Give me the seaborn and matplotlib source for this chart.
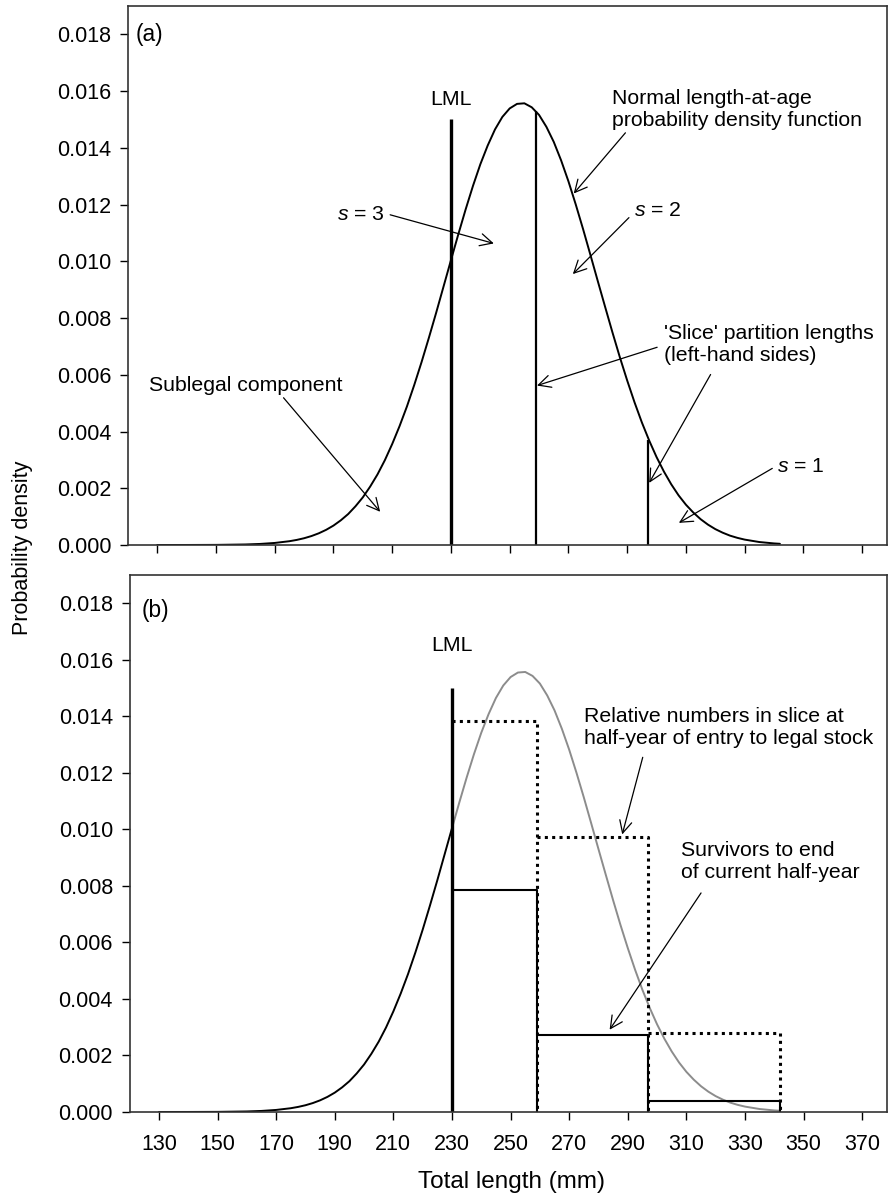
import matplotlib
matplotlib.use("Agg")
import matplotlib.pyplot as plt
import seaborn as sns
import pandas as pd

# ---------------- data ----------------
length_mm = [130, 140, 150, 160, 165, 170, 175, 177.5, 180, 182.5, 185, 187.5, 190,
             192.5, 195, 197.5, 200, 202.5, 205, 207.5, 210, 212.5, 215, 217.5, 220,
             222.5, 225, 227.5, 230, 232.5, 235, 237.5, 240, 242.5, 245, 247.5, 250,
             252.5, 255, 257.5, 260, 262.5, 265, 267.5, 270, 272.5, 275, 277.5, 280,
             282.5, 285, 287.5, 290, 292.5, 295, 297.5, 300, 302.5, 305, 307.5, 310,
             312.5, 315, 317.5, 320, 322.5, 325, 327.5, 330, 335, 340, 342]
density = [0.0000001, 0.0000008, 0.0000041, 0.0000184, 0.000037, 0.000072, 0.000133,
           0.000179, 0.000238, 0.000315, 0.000412, 0.000534, 0.000684,
           0.00087, 0.00109, 0.001365, 0.00168, 0.00206, 0.00249, 0.00299, 0.00356,
           0.00419, 0.00488, 0.00564, 0.00645,
           0.00731, 0.00820, 0.00912, 0.01004, 0.01095, 0.01183, 0.01266, 0.01342,
           0.01408, 0.01465, 0.01509, 0.01539,
           0.01555, 0.01557, 0.01543, 0.01516, 0.01474, 0.01421, 0.01356, 0.01282,
           0.01200, 0.01113, 0.01022, 0.00930,
           0.00839, 0.00749, 0.00662, 0.00580, 0.00503, 0.00432, 0.00368, 0.00310,
           0.00259, 0.00214, 0.00175, 0.00142,
           0.001145, 0.00091, 0.000718, 0.00056, 0.000434, 0.00033, 0.000252, 0.00019,
           0.000104, 0.000055, 0.000042]

lml = 230
lml_top = 0.0150
slice_edges = [230, 259, 297, 342]          # slice partition lengths
slice_line_tops = [0.0153, 0.0037]          # panel (a) partition lines at 259, 297
relative_numbers = [0.01384, 0.00974, 0.00279]   # dotted steps, panel (b)
survivors = [0.00786, 0.00273, 0.00040]          # solid steps, panel (b)

x_ticks = [130, 150, 170, 190, 210, 230, 250, 270, 290, 310, 330, 350, 370]
y_ticks = [0.000, 0.002, 0.004, 0.006, 0.008, 0.010, 0.012, 0.014, 0.016, 0.018]

# ---------------- style ----------------
sns.set_style("ticks")
plt.rcParams['font.family'] = ['Liberation Sans', 'DejaVu Sans']
plt.rcParams['mathtext.fontset'] = 'custom'
plt.rcParams['mathtext.rm'] = 'Liberation Sans'
plt.rcParams['mathtext.it'] = 'Liberation Sans:italic'
plt.rcParams['text.color'] = 'black'
plt.rcParams['axes.labelcolor'] = 'black'
plt.rcParams['xtick.color'] = 'black'
plt.rcParams['ytick.color'] = 'black'

fig = plt.figure(figsize=(8.88, 12.02), dpi=100)
ax_a = fig.add_axes([0.144, 0.5466, 0.855, 0.4484])
ax_b = fig.add_axes([0.146, 0.0749, 0.853, 0.4467])

curve = pd.DataFrame({"x": length_mm, "y": density})
left = curve[curve.x <= lml]
right = curve[curve.x >= lml]

TICK_FS = 15.5
ANN_FS = 15.3
LS = 1.2
arrow = dict(arrowstyle="->", color="black", lw=0.9, mutation_scale=22,
             shrinkA=0, shrinkB=0)


def style_axis(ax, show_xlabels):
    ax.set_xlim(120, 378.5)
    ax.set_ylim(0, 0.019)
    ax.set_xticks(x_ticks)
    ax.set_yticks(y_ticks)
    ax.set_yticklabels([f"{v:.3f}" for v in y_ticks])
    if not show_xlabels:
        ax.set_xticklabels([])
    ax.tick_params(axis="both", direction="out", length=6, width=1,
                   labelsize=TICK_FS, colors="black", pad=6)
    ax.tick_params(axis="x", pad=10)
    for sp in ax.spines.values():
        sp.set_visible(True)
        sp.set_color("#333333")
        sp.set_linewidth(1.2)
    ax.set_xlabel("")
    ax.set_ylabel("")


# ---------------- panel (a) ----------------
sns.lineplot(data=curve, x="x", y="y", ax=ax_a, color="black", lw=1.4,
             estimator=None, sort=False)
ax_a.vlines(lml, 0, lml_top, color="black", lw=2.4)
ax_a.vlines(slice_edges[1:3], 0, slice_line_tops, color="black", lw=1.6)
ax_a.text(lml, 0.0157, "LML", ha="center", va="center", fontsize=ANN_FS)
ax_a.text(122.8, 0.0180, "(a)", ha="left", va="center", fontsize=ANN_FS + 1)

ax_a.text(284.8, 0.01535, "Normal length-at-age\nprobability density function",
          ha="left", va="center", fontsize=ANN_FS, linespacing=LS)
ax_a.annotate("", xy=(271.8, 0.01239), xytext=(289.4, 0.01453), arrowprops=arrow)

ax_a.text(207.4, 0.01166, "$s$ = 3", ha="right", va="center", fontsize=ANN_FS)
ax_a.annotate("", xy=(244.6, 0.01063), xytext=(209.3, 0.01164), arrowprops=arrow)

ax_a.text(292.3, 0.01178, "$s$ = 2", ha="left", va="center", fontsize=ANN_FS)
ax_a.annotate("", xy=(271.5, 0.00955), xytext=(290.6, 0.01154), arrowprops=arrow)

ax_a.text(302.5, 0.00706, "'Slice' partition lengths\n(left-hand sides)",
          ha="left", va="center", fontsize=ANN_FS, linespacing=LS)
ax_a.annotate("", xy=(259.3, 0.00562), xytext=(300.2, 0.00697), arrowprops=arrow)
ax_a.annotate("", xy=(297.5, 0.00219), xytext=(318.4, 0.00601), arrowprops=arrow)

ax_a.text(341.0, 0.00275, "$s$ = 1", ha="left", va="center", fontsize=ANN_FS)
ax_a.annotate("", xy=(307.6, 0.00078), xytext=(339.4, 0.00270), arrowprops=arrow)

ax_a.text(127.2, 0.00563, "Sublegal component", ha="left", va="center", fontsize=ANN_FS)
ax_a.annotate("", xy=(205.9, 0.00117), xytext=(173.0, 0.00519), arrowprops=arrow)

style_axis(ax_a, False)

# ---------------- panel (b) ----------------
sns.lineplot(data=left, x="x", y="y", ax=ax_b, color="black", lw=1.4,
             estimator=None, sort=False)
sns.lineplot(data=right, x="x", y="y", ax=ax_b, color="#8c8c8c", lw=1.4,
             estimator=None, sort=False)

# dotted: relative numbers in slice
for i, v in enumerate(relative_numbers):
    x0, x1 = slice_edges[i], slice_edges[i + 1]
    ax_b.plot([x0, x1, x1], [v, v, 0], color="black", lw=2.2, ls=(0, (1, 1.4)))
# solid: survivors
for i, v in enumerate(survivors):
    x0, x1 = slice_edges[i], slice_edges[i + 1]
    ax_b.plot([x0, x1, x1], [v, v, 0], color="black", lw=1.5)

ax_b.vlines(lml, 0, lml_top, color="black", lw=2.4)
ax_b.text(lml, 0.01652, "LML", ha="center", va="center", fontsize=ANN_FS)
ax_b.text(124.2, 0.01775, "(b)", ha="left", va="center", fontsize=ANN_FS + 1)

ax_b.text(275.2, 0.01362, "Relative numbers in slice at\nhalf-year of entry to legal stock",
          ha="left", va="center", fontsize=ANN_FS, linespacing=LS)
ax_b.annotate("", xy=(288.1, 0.00982), xytext=(295.1, 0.01255), arrowprops=arrow)

ax_b.text(308.0, 0.00887, "Survivors to end\nof current half-year",
          ha="left", va="center", fontsize=ANN_FS, linespacing=LS)
ax_b.annotate("", xy=(283.8, 0.00291), xytext=(315.0, 0.00775), arrowprops=arrow)

style_axis(ax_b, True)

fig.text(0.576, 0.0166, "Total length (mm)", ha="center", va="center", fontsize=17.5)
fig.text(0.025, 0.544, "Probability density", ha="center", va="center",
         rotation=90, fontsize=15.5)

fig.savefig("out.png", dpi=100)
